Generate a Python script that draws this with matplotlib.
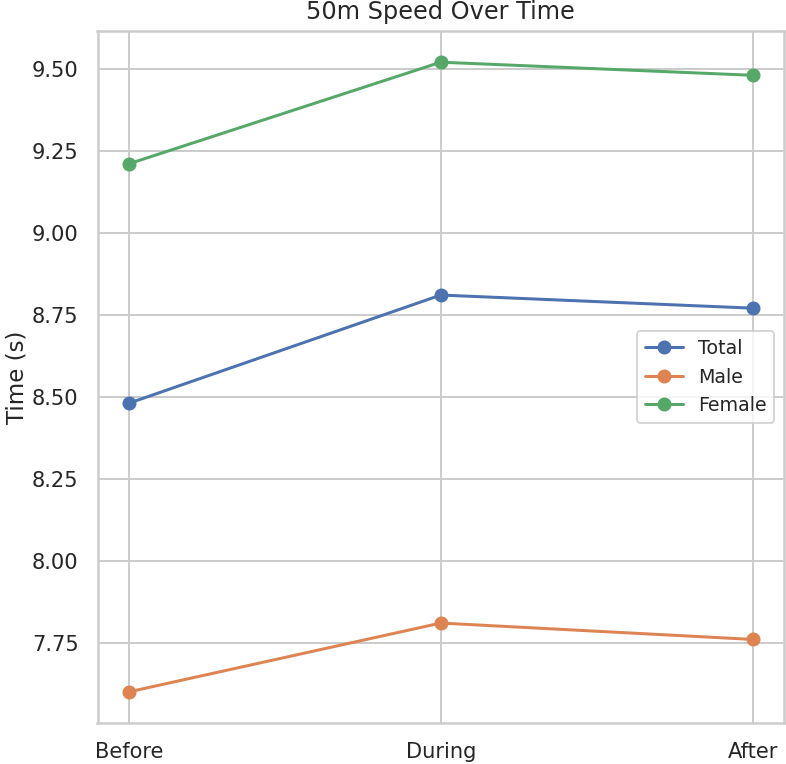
import matplotlib
matplotlib.use("Agg")
import matplotlib.pyplot as plt
import seaborn as sns

periods = ["Before", "During", "After"]
total = [8.48, 8.81, 8.77]
male = [7.60, 7.81, 7.76]
female = [9.21, 9.52, 9.48]

sns.set_theme(style="whitegrid")
plt.rcParams['font.family'] = ['DejaVu Sans']

fig = plt.figure(figsize=(786 / 144, 764 / 144), dpi=144)
ax = fig.add_axes([97.5 / 786, 1 - 723.4 / 764, (784 - 97.5) / 786, (723.4 - 30.7) / 764])

ax.plot(periods, total, marker='o', label='Total')
ax.plot(periods, male, marker='o', label='Male')
ax.plot(periods, female, marker='o', label='Female')

ax.set_title("50m Speed Over Time")
ax.set_ylabel("Time (s)", fontsize=11.5)
ax.yaxis.set_label_coords(-0.1, 0.5)
ax.tick_params(labelsize=10.5)
ax.legend(loc='center right', fontsize=9.5)

fig.savefig("out.png", dpi=144)
